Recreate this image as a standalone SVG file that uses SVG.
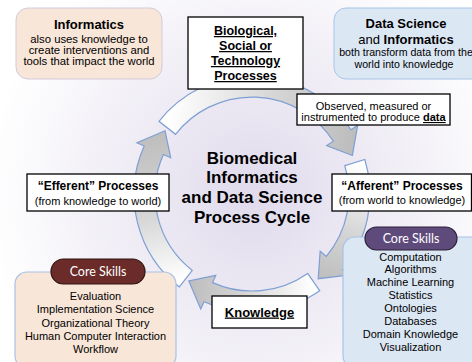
<svg xmlns="http://www.w3.org/2000/svg" width="472" height="362" viewBox="0 0 472 362">
<defs>
<radialGradient id="bg" gradientUnits="userSpaceOnUse" cx="255" cy="195" r="270">
<stop offset="0" stop-color="#E0DAEC"/>
<stop offset="0.45" stop-color="#EEEBF4"/>
<stop offset="1" stop-color="#FFFFFF"/>
</radialGradient>
<linearGradient id="g1" gradientUnits="userSpaceOnUse" x1="167" y1="128" x2="352" y2="150">
<stop offset="0" stop-color="#FFFFFF"/><stop offset="0.55" stop-color="#D6D6D6"/><stop offset="1" stop-color="#BDBDBD"/>
</linearGradient>
<linearGradient id="g2" gradientUnits="userSpaceOnUse" x1="355" y1="162" x2="318" y2="279">
<stop offset="0" stop-color="#FFFFFF"/><stop offset="0.55" stop-color="#D6D6D6"/><stop offset="1" stop-color="#BDBDBD"/>
</linearGradient>
<linearGradient id="g3" gradientUnits="userSpaceOnUse" x1="313" y1="282" x2="189" y2="281">
<stop offset="0" stop-color="#FFFFFF"/><stop offset="0.55" stop-color="#D6D6D6"/><stop offset="1" stop-color="#BDBDBD"/>
</linearGradient>
<linearGradient id="g4" gradientUnits="userSpaceOnUse" x1="186" y1="279" x2="160" y2="131">
<stop offset="0" stop-color="#FFFFFF"/><stop offset="0.45" stop-color="#D6D6D6"/><stop offset="1" stop-color="#BDBDBD"/>
</linearGradient>
</defs>
<style>
text{font-family:"Liberation Sans",Arial,sans-serif;fill:#000;text-anchor:middle}
.b{font-weight:bold}
.u{text-decoration:underline}
.plain{fill:#FFFFFF;stroke:#000;stroke-width:1.3}
.arr{stroke:#7E9FD4;stroke-width:1.2;stroke-linejoin:miter}
.pill{font-family:Lato,"Open Sans",sans-serif;fill:#FFFFFF;font-size:12.5px}
</style>
<rect x="0" y="0" width="472" height="362" fill="url(#bg)"/>
<g id="connectors">
<path class="arr" fill="url(#g1)" d="M159.0,121.3 A118,118 0 0 1 350.97,129.74 L357.68,125.38 L352.36,155.47 L326.64,145.53 L333.35,141.17 A97,97 0 0 0 175.6,134.3 Z"/>
<path class="arr" fill="url(#g2)" d="M364.84,159.5 A118,118 0 0 1 342.39,269.85 L348.52,274.99 L318.19,278.71 L320.17,251.21 L326.3,256.35 A97,97 0 0 0 344.76,165.64 Z"/>
<path class="arr" fill="url(#g3)" d="M319.68,290.66 A118,118 0 0 1 204.01,301.8 L200.75,309.1 L188.81,280.97 L215.8,275.3 L212.55,282.61 A97,97 0 0 0 307.64,273.46 Z"/>
<path class="arr" fill="url(#g4)" d="M179.35,286.98 A118,118 0 0 1 144.2,146.01 L136.9,142.75 L165.03,130.81 L170.7,157.8 L163.39,154.55 A97,97 0 0 0 192.28,270.44 Z"/>
</g>
<g id="title">
<text class="b" x="252" y="163.5" font-size="17">Biomedical</text>
<text class="b" x="252" y="182.5" font-size="17">Informatics</text>
<text class="b" x="252" y="202.5" font-size="17">and Data Science</text>
<text class="b" x="252" y="222.5" font-size="17">Process Cycle</text>
</g>
<g id="informatics">
<rect x="16" y="8" width="146" height="71" rx="12" fill="#F8E6D8" stroke="#D3CADD" stroke-width="1"/>
<text class="b" x="89" y="29" font-size="13">Informatics</text>
<text x="89" y="43" font-size="11.3">also uses knowledge to</text>
<text x="89" y="54" font-size="11.3">create interventions and</text>
<text x="89" y="65" font-size="11.3">tools that impact the world</text>
</g>
<g id="biological">
<rect class="plain" x="188" y="17" width="115" height="72"/>
<text class="b u" x="245.5" y="35" font-size="12.5">Biological,</text>
<text class="b u" x="245.5" y="50" font-size="12.5">Social or</text>
<text class="b u" x="245.5" y="65" font-size="12.5">Technology</text>
<text class="b u" x="245.5" y="80" font-size="12.5">Processes</text>
</g>
<g id="datascience">
<rect x="334" y="8" width="152" height="71" rx="12" fill="#DCE7F4" stroke="#A8C4E8" stroke-width="1"/>
<text class="b" x="406" y="28" font-size="13">Data Science</text>
<text x="406" y="43.5" font-size="13">and <tspan class="b">Informatics</tspan></text>
<text x="406" y="56" font-size="10.6">both transform data from the</text>
<text x="404" y="68" font-size="10.6">world into knowledge</text>
</g>
<g id="observed">
<rect class="plain" x="297" y="94" width="153" height="31"/>
<text x="373.5" y="109.5" font-size="11">Observed, measured or</text>
<text x="373.5" y="121" font-size="11">instrumented to produce <tspan class="b u">data</tspan></text>
</g>
<g id="efferent">
<rect class="plain" x="27" y="174" width="142" height="37"/>
<text class="b" x="98" y="190" font-size="12">“Efferent” Processes</text>
<text x="98" y="204.5" font-size="11">(from knowledge to world)</text>
</g>
<g id="afferent">
<rect class="plain" x="332" y="174" width="139.5" height="37"/>
<text class="b" x="402" y="189.5" font-size="12">“Afferent” Processes</text>
<text x="402" y="203.5" font-size="11">(from world to knowledge)</text>
</g>
<g id="knowledge">
<rect class="plain" x="212" y="296" width="95" height="32"/>
<text class="b u" x="259.5" y="316.5" font-size="13">Knowledge</text>
</g>
<g id="coreskills-left">
<rect x="15" y="272" width="161" height="96" rx="12" fill="#F8E6D8" stroke="#A9C2E4" stroke-width="1.2"/>
<rect x="51" y="259" width="94" height="25" rx="12.5" fill="#6B2B28" stroke="#2E1412" stroke-width="1.2"/>
<text class="pill" x="98" y="276">Core Skills</text>
<text x="95.5" y="300" font-size="11">Evaluation</text>
<text x="95.5" y="313.3" font-size="11">Implementation Science</text>
<text x="95.5" y="326.6" font-size="11">Organizational Theory</text>
<text x="95.5" y="339.5" font-size="11">Human Computer Interaction</text>
<text x="95.5" y="352.7" font-size="11">Workflow</text>
</g>
<g id="coreskills-right">
<rect x="343" y="237" width="142" height="131" rx="12" fill="#DCE7F4" stroke="#A8C4E8" stroke-width="1.2"/>
<rect x="365" y="227" width="92" height="23" rx="11.5" fill="#5F4B7B" stroke="#2A2038" stroke-width="1.2"/>
<text class="pill" x="411" y="243">Core Skills</text>
<text x="410.5" y="261" font-size="11">Computation</text>
<text x="410.5" y="273" font-size="11">Algorithms</text>
<text x="410.5" y="286" font-size="11">Machine Learning</text>
<text x="410.5" y="299" font-size="11">Statistics</text>
<text x="410.5" y="311.5" font-size="11">Ontologies</text>
<text x="410.5" y="324.5" font-size="11">Databases</text>
<text x="410.5" y="337.5" font-size="11">Domain Knowledge</text>
<text x="410.5" y="350.5" font-size="11">Visualization</text>
</g>
</svg>
